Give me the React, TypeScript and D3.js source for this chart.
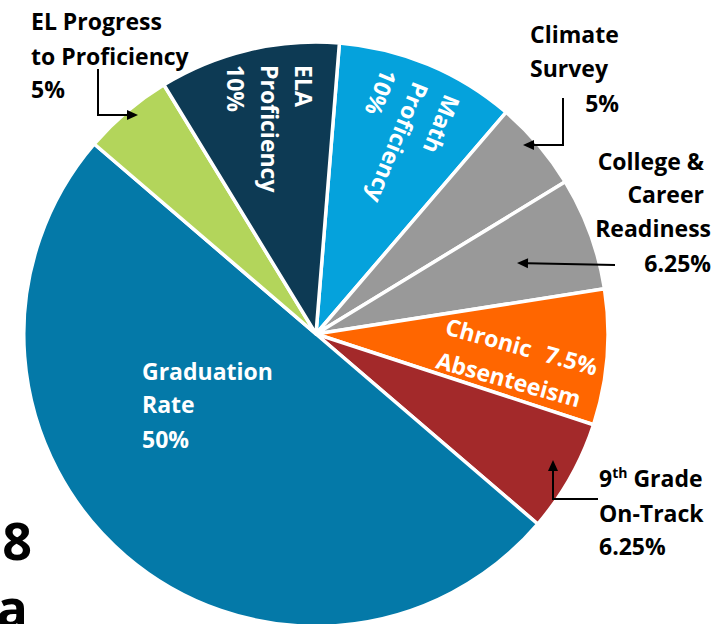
import React from "react";
import * as d3 from "d3";

const categories = [
  "Math Proficiency",
  "Climate Survey",
  "College & Career Readiness",
  "Chronic Absenteeism",
  "9th Grade On-Track",
  "Graduation Rate",
  "EL Progress to Proficiency",
  "ELA Proficiency",
];
const weights = [10, 5, 6.25, 7.5, 6.25, 50, 5, 10];
const colors = ["#05A2DC", "#999999", "#999999", "#FF6600", "#A3292A", "#0479A8", "#B3D55B", "#0D3A54"];

const W = 715;
const H = 624;
const cx = 316;
const cy = 334;
const R = 292;
const startDeg = 4.6;
const FONT = "'Open Sans', Lato, sans-serif";

type Datum = { name: string; value: number; color: string };
const data: Datum[] = categories.map((c, i) => ({ name: c, value: weights[i], color: colors[i] }));

function Arrow({ pts }: { pts: [number, number][] }) {
  const n = pts.length;
  const [x1, y1] = pts[n - 2];
  const [x2, y2] = pts[n - 1];
  const a = Math.atan2(y2 - y1, x2 - x1);
  const L = 11;
  const Wd = 5;
  const bx = x2 - L * Math.cos(a);
  const by = y2 - L * Math.sin(a);
  const head = [
    [x2, y2],
    [bx + Wd * Math.sin(a), by - Wd * Math.cos(a)],
    [bx - Wd * Math.sin(a), by + Wd * Math.cos(a)],
  ];
  const linePts = pts.slice(0, n - 1).concat([[bx, by]]);
  return (
    <g>
      <path d={d3.line()(linePts as [number, number][]) || ""} fill="none" stroke="#000" strokeWidth={2} />
      <path d={"M" + head.map((p) => p.join(",")).join("L") + "Z"} fill="#000" />
    </g>
  );
}

export default function App() {
  const pie = d3
    .pie<Datum>()
    .sort(null)
    .value((d) => d.value)
    .startAngle((startDeg * Math.PI) / 180)
    .endAngle((startDeg * Math.PI) / 180 + 2 * Math.PI);
  const arcs = pie(data);
  const arc = d3.arc<d3.PieArcDatum<Datum>>().innerRadius(0).outerRadius(R);

  const fs = 23;
  const lab = { fontFamily: FONT, fontWeight: 700, fontSize: fs } as const;

  return (
    <svg
      width={W}
      height={H}
      style={{ position: "absolute", left: 0, top: 0, background: "#fff" }}
    >
      <g transform={`translate(${cx},${cy})`}>
        {arcs.map((a, i) => (
          <path key={i} d={arc(a) || ""} fill={a.data.color} stroke="#fff" strokeWidth={3.5} strokeLinejoin="round" />
        ))}
      </g>

      {/* EL Progress */}
      <text {...lab} fill="#000">
        <tspan x={31} y={30}>EL Progress</tspan>
        <tspan x={31} y={65}>to Proficiency</tspan>
        <tspan x={31} y={98}>5%</tspan>
      </text>
      <Arrow pts={[[98, 69], [98, 115], [138, 115]]} />

      {/* ELA */}
      <text {...lab} fill="#fff" transform="translate(295,65) rotate(90)">
        <tspan x={0} y={0}>ELA</tspan>
        <tspan x={0} y={34}>Proficiency</tspan>
        <tspan x={0} y={68}>10%</tspan>
      </text>

      {/* Math */}
      <text {...lab} fill="#fff" transform="translate(445,93) rotate(112)">
        <tspan x={0} y={0}>Math</tspan>
        <tspan x={0} y={34}>Proficiency</tspan>
        <tspan x={0} y={68}>10%</tspan>
      </text>

      {/* Climate Survey */}
      <text {...lab} fill="#000">
        <tspan x={530} y={43}>Climate</tspan>
        <tspan x={530} y={77}>Survey</tspan>
        <tspan x={619} y={112} textAnchor="end">5%</tspan>
      </text>
      <Arrow pts={[[563, 98], [563, 145], [523, 145]]} />

      {/* College & Career */}
      <text {...lab} fill="#000" textAnchor="end">
        <tspan x={704} y={170}>College &amp;</tspan>
        <tspan x={704} y={203}>Career</tspan>
        <tspan x={711} y={237}>Readiness</tspan>
        <tspan x={711} y={272}>6.25%</tspan>
      </text>
      <Arrow pts={[[615, 265], [517, 263]]} />

      {/* Chronic Absenteeism */}
      <text {...lab} fill="#fff" transform="translate(444,334) rotate(15.5)">
        <tspan x={0} y={0}>Chronic</tspan>
        <tspan x={103} y={0}>7.5%</tspan>
        <tspan x={0} y={35}>Absenteeism</tspan>
      </text>

      {/* 9th Grade */}
      <text {...lab} fill="#000">
        <tspan x={599} y={487}>9</tspan>
        <tspan fontSize={14} dy={-9}>th</tspan>
        <tspan dy={9}> Grade</tspan>
        <tspan x={599} y={522}>On-Track</tspan>
        <tspan x={599} y={555}>6.25%</tspan>
      </text>
      <Arrow pts={[[598, 499], [553, 499], [553, 460]]} />

      {/* Graduation */}
      <text {...lab} fill="#fff">
        <tspan x={142} y={380}>Graduation</tspan>
        <tspan x={142} y={413}>Rate</tspan>
        <tspan x={142} y={448}>50%</tspan>
      </text>

      {/* cut-off slide text */}
      <text fontFamily={FONT} fontWeight={700} fontSize={52} fill="#000" textAnchor="end">
        <tspan x={32} y={560}>2018</tspan>
        <tspan x={28} y={627}>ta</tspan>
      </text>
    </svg>
  );
}
